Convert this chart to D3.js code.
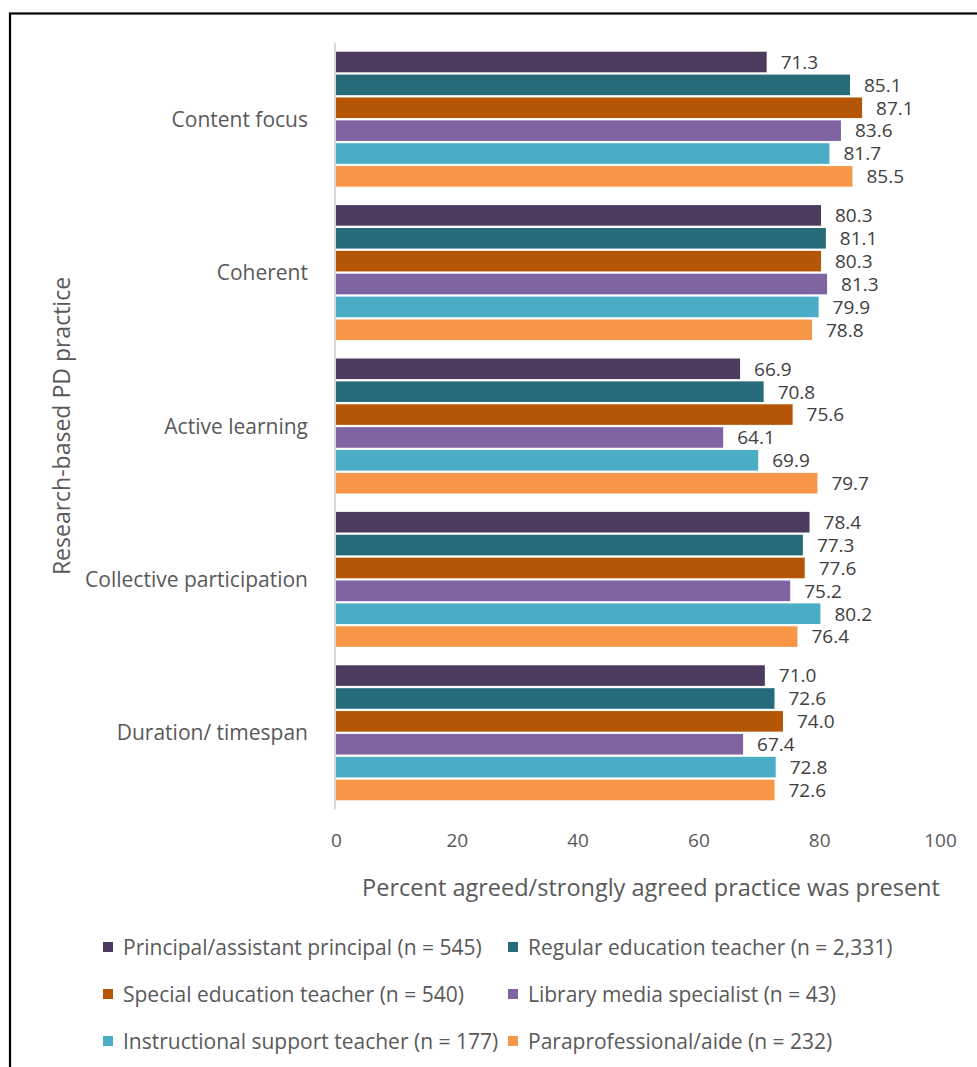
<!DOCTYPE html>
<html>
<head>
<meta charset="utf-8">
<script src="https://cdn.jsdelivr.net/npm/d3@7"></script>
<style>
  html, body { margin: 0; padding: 0; background: #fff; }
  svg { display: block; font-family: "Open Sans", Lato, sans-serif; }
</style>
</head>
<body>
<svg id="chart" width="977" height="1067"></svg>
<script>
// Research-based PD practices, percent of respondents agreeing the practice was present
const practices = ["Content focus", "Coherent", "Active learning", "Collective participation", "Duration/ timespan"];
const groups = [
  "Principal/assistant principal (n = 545)",
  "Regular education teacher (n = 2,331)",
  "Special education teacher (n = 540)",
  "Library media specialist (n = 43)",
  "Instructional support teacher (n = 177)",
  "Paraprofessional/aide (n = 232)"
];
const principal   = [71.3, 80.3, 66.9, 78.4, 71.0];
const regularEd   = [85.1, 81.1, 70.8, 77.3, 72.6];
const specialEd   = [87.1, 80.3, 75.6, 77.6, 74.0];
const libraryMed  = [83.6, 81.3, 64.1, 75.2, 67.4];
const instrSupp   = [81.7, 79.9, 69.9, 80.2, 72.8];
const paraAide    = [85.5, 78.8, 79.7, 76.4, 72.6];
const seriesValues = [principal, regularEd, specialEd, libraryMed, instrSupp, paraAide];
const xTicks = [0, 20, 40, 60, 80, 100];
const colors = ["#4d3a5f", "#266b7a", "#b55606", "#8064a2", "#4bacc6", "#f79646"];

const svg = d3.select("#chart");

// outer frame
svg.append("rect")
  .attr("x", 10).attr("y", 13.5)
  .attr("width", 1000).attr("height", 1100)
  .attr("fill", "none").attr("stroke", "#000").attr("stroke-width", 2.2);

const x = d3.scaleLinear().domain([0, 100]).range([336, 940]);
const y0 = d3.scaleBand().domain(practices).range([42.5, 809.5]).paddingInner(0.12).paddingOuter(0.06);
const y1 = d3.scaleBand().domain(d3.range(groups.length)).range([0, y0.bandwidth()]).paddingInner(0.1).paddingOuter(0.0);

const rows = [];
practices.forEach((p, i) => {
  seriesValues.forEach((vals, s) => rows.push({ practice: p, s, v: vals[i] }));
});

// bars
svg.append("g").selectAll("rect").data(rows).join("rect")
  .attr("x", x(0))
  .attr("y", d => y0(d.practice) + y1(d.s))
  .attr("width", d => x(d.v) - x(0))
  .attr("height", y1.bandwidth())
  .attr("fill", d => colors[d.s]);

// value labels
const fmt = d3.format(".1f");
svg.append("g").selectAll("text").data(rows).join("text")
  .attr("x", d => x(d.v) + 14)
  .attr("y", d => y0(d.practice) + y1(d.s) + y1.bandwidth() / 2)
  .attr("dy", "0.36em")
  .attr("fill", "#404040")
  .attr("font-size", 19)
  .text(d => fmt(d.v));

// vertical axis line
svg.append("line")
  .attr("x1", x(0) - 1).attr("x2", x(0) - 1)
  .attr("y1", 42.5).attr("y2", 809.5)
  .attr("stroke", "#d9d9d9").attr("stroke-width", 2);

// category labels
svg.append("g").selectAll("text").data(practices).join("text")
  .attr("x", 308)
  .attr("y", d => y0(d) + y0.bandwidth() / 2)
  .attr("dy", "0.36em")
  .attr("text-anchor", "end")
  .attr("fill", "#595959")
  .attr("font-size", 21)
  .text(d => d);

// x axis tick labels
const xAxis = d3.axisBottom(x).tickValues(xTicks).tickSize(0).tickPadding(0);
const gx = svg.append("g").attr("transform", "translate(0,840)").call(xAxis);
gx.select(".domain").remove();
gx.selectAll("text").attr("fill", "#595959").attr("font-size", 19)
  .attr("font-family", "'Open Sans', Lato, sans-serif").attr("dy", "0.36em");

// axis titles
svg.append("text")
  .attr("x", 651).attr("y", 888)
  .attr("dy", "0.36em")
  .attr("text-anchor", "middle")
  .attr("fill", "#595959").attr("font-size", 23.5)
  .text("Percent agreed/strongly agreed practice was present");

svg.append("text")
  .attr("transform", "translate(62,426) rotate(-90)")
  .attr("dy", "0.36em")
  .attr("text-anchor", "middle")
  .attr("fill", "#595959").attr("font-size", 23)
  .text("Research-based PD practice");

// legend
const legend = svg.append("g").selectAll("g").data(groups).join("g")
  .attr("transform", (d, i) => `translate(${i % 2 === 0 ? 103 : 508},${947 + Math.floor(i / 2) * 47})`);
legend.append("rect")
  .attr("x", 0).attr("y", -5).attr("width", 10).attr("height", 10)
  .attr("fill", (d, i) => colors[i]);
legend.append("text")
  .attr("x", 20).attr("dy", "0.36em")
  .attr("fill", "#595959").attr("font-size", 21)
  .text(d => d);
</script>
</body>
</html>
